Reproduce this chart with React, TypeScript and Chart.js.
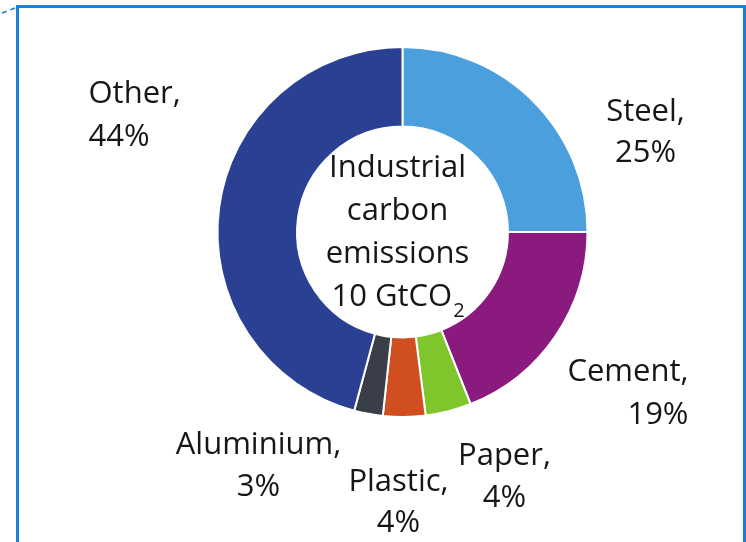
import React, { useEffect, useRef } from "react";
import { Chart, registerables } from "chart.js";

Chart.register(...registerables);

// ---- data ----
const categories = ["Steel", "Cement", "Paper", "Plastic", "Aluminium", "Other"];
const shares = [25, 19, 4, 3.7, 2.5, 45.8];
const shareLabels = ["25%", "19%", "4%", "4%", "3%", "44%"];
const sliceColors = ["#4a9fdc", "#8b1a7e", "#7ec62c", "#d04e20", "#3a3e48", "#2a4193"];
const centerLines = ["Industrial", "carbon", "emissions"];
const centerTotal = "10 GtCO";
const centerSub = "2";

// label layout (offsets from donut centre)
const labelLayout = [
  { align: "center", dx: 243, dy1: -111, dy2: -70 },
  { align: "right", dx: 286, dy1: 149, dy2: 192 },
  { align: "center", dx: 102, dy1: 233, dy2: 275 },
  { align: "center", dx: -4, dy1: 259, dy2: 300 },
  { align: "center", dx: -144, dy1: 222, dy2: 264 },
  { align: "left", dx: -314, dy1: -129, dy2: -86 },
];

const FONT = '"Open Sans", sans-serif';

const overlayPlugin = {
  id: "overlay",
  afterDraw(chart: any) {
    const ctx = chart.ctx;
    const meta = chart.getDatasetMeta(0);
    const arc = meta.data[0];
    const cx = arc.x;
    const cy = arc.y;
    ctx.save();
    // frame
    ctx.strokeStyle = "#1b7fd3";
    ctx.lineWidth = 3;
    ctx.strokeRect(17.5, 6.5, 727, 600);
    ctx.lineWidth = 1.5;
    ctx.setLineDash([5, 4]);
    ctx.beginPath();
    ctx.moveTo(2, 13);
    ctx.lineTo(15, 8);
    ctx.stroke();
    ctx.setLineDash([]);

    ctx.fillStyle = "#161616";
    ctx.font = `31px ${FONT}`;
    ctx.textBaseline = "alphabetic";
    categories.forEach((c, i) => {
      const l = labelLayout[i];
      ctx.textAlign = l.align as CanvasTextAlign;
      ctx.fillText(c + ",", cx + l.dx, cy + l.dy1);
      ctx.fillText(shareLabels[i], cx + l.dx, cy + l.dy2);
    });

    // centre text
    const tx = cx - 5;
    ctx.textAlign = "center";
    centerLines.forEach((t, i) => {
      ctx.fillText(t, tx, cy - 55 + i * 43);
    });
    const mainW = ctx.measureText(centerTotal).width;
    ctx.font = `20px ${FONT}`;
    const subW = ctx.measureText(centerSub).width;
    const start = tx - (mainW + subW) / 2;
    ctx.textAlign = "left";
    ctx.font = `31px ${FONT}`;
    ctx.fillText(centerTotal, start, cy + 74);
    ctx.font = `20px ${FONT}`;
    ctx.fillText(centerSub, start + mainW + 1, cy + 85);
    ctx.restore();
  },
};

export default function App() {
  const ref = useRef<HTMLCanvasElement>(null);
  useEffect(() => {
    const chart = new Chart(ref.current as HTMLCanvasElement, {
      type: "doughnut",
      data: {
        labels: categories,
        datasets: [
          {
            data: shares,
            backgroundColor: sliceColors,
            borderColor: "#ffffff",
            borderWidth: 2,
          },
        ],
      },
      options: {
        animation: false,
        responsive: false,
        devicePixelRatio: 1,
        radius: 185,
        cutout: "57%",
        layout: { padding: { left: 216, right: 157, top: 46, bottom: 124 } },
        plugins: { legend: { display: false }, tooltip: { enabled: false } },
      } as any,
      plugins: [overlayPlugin],
    });
    return () => chart.destroy();
  }, []);
  return (
    <div style={{ position: "fixed", left: 0, top: 0, width: 746, height: 542, background: "#fff" }}>
      <canvas ref={ref} width={746} height={542} style={{ display: "block" }} />
    </div>
  );
}
